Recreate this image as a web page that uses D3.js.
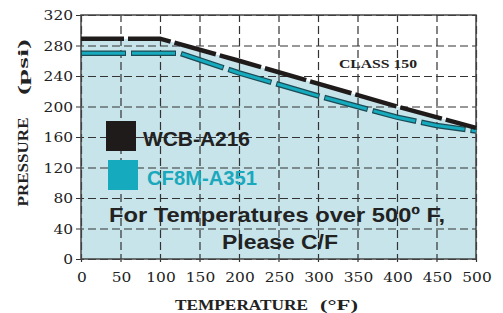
<!DOCTYPE html>
<html>
<head>
<meta charset="utf-8">
<script src="https://cdn.jsdelivr.net/npm/d3@7"></script>
<style>
  body { margin: 0; background: #fff; }
  svg { display: block; }
  .tick-label { font-family: 'DejaVu Serif', serif; font-size: 13px; fill: #222; }
  .axis-title { font-family: 'Liberation Serif', serif; font-weight: bold; font-size: 15px; fill: #222; }
  .legend-text { font-family: 'Liberation Sans', Arial, sans-serif; font-weight: bold; font-size: 20px; }
</style>
</head>
<body>
<svg width="503" height="313"></svg>
<script>
// chart values
var xTicks = [0, 50, 100, 150, 200, 250, 300, 350, 400, 450, 500];
var yTicks = [0, 40, 80, 120, 160, 200, 240, 280, 320];
var wcbTemp = [0, 100, 200, 300, 400, 500];
var wcbPressure = [289, 289, 260, 230, 200, 172];
var cf8mTemp = [0, 125, 200, 300, 400, 450, 500];
var cf8mPressure = [270, 270, 244, 214, 186, 175, 168];
var seriesNames = ['WCB-A216', 'CF8M-A351'];
var seriesColors = ['#1f1b1b', '#15aabd'];

var svg = d3.select('svg');

var plot = {l: 81, r: 476, t: 15, b: 259};

var xScale = d3.scaleLinear().domain([0, 500]).range([plot.l, plot.r]);
var yScale = d3.scaleLinear().domain([0, 320]).range([plot.b, plot.t]);

var wcb = wcbTemp.map(function(t, i) { return {t: t, p: wcbPressure[i]}; });
var cf8m = cf8mTemp.map(function(t, i) { return {t: t, p: cf8mPressure[i]}; });

// light blue area under the WCB curve
var area = d3.area()
    .x(function(d) { return xScale(d.t); })
    .y0(yScale(0))
    .y1(function(d) { return yScale(d.p); });

svg.append('path')
    .datum(wcb)
    .attr('d', area)
    .attr('fill', '#c6e4ea');

// dashed grid
var gridColor = '#333';
svg.append('g')
    .attr('transform', 'translate(0,' + plot.b + ')')
    .call(d3.axisBottom(xScale).tickValues(xTicks).tickSize(-(plot.b - plot.t) - 3).tickFormat(''))
    .call(function(g) {
        g.select('.domain').remove();
        g.selectAll('.tick line')
            .attr('transform', 'translate(0,3)')
            .attr('stroke', gridColor)
            .attr('stroke-width', 1.2)
            .attr('stroke-dasharray', '8,4');
    });

svg.append('g')
    .attr('transform', 'translate(' + (plot.l - 5) + ',0)')
    .call(d3.axisLeft(yScale).tickValues(yTicks).tickSize(-(plot.r - plot.l) - 5).tickFormat(''))
    .call(function(g) {
        g.select('.domain').remove();
        g.selectAll('.tick line')
            .attr('stroke', gridColor)
            .attr('stroke-width', 1.2)
            .attr('stroke-dasharray', '8,4');
    });

// frame
svg.append('rect')
    .attr('x', plot.l)
    .attr('y', plot.t)
    .attr('width', plot.r - plot.l)
    .attr('height', plot.b - plot.t)
    .attr('fill', 'none')
    .attr('stroke', '#444')
    .attr('stroke-width', 1.5);

// tick labels (wide typewriter-like digits)
svg.selectAll('.ylab')
    .data(yTicks)
    .enter()
    .append('text')
    .attr('class', 'tick-label')
    .attr('x', plot.l - 8)
    .attr('y', function(d) { return yScale(d) + 5; })
    .attr('text-anchor', 'end')
    .attr('textLength', function(d) { return String(d).length * 9.8; })
    .attr('lengthAdjust', 'spacingAndGlyphs')
    .text(function(d) { return d; });

svg.selectAll('.xlab')
    .data(xTicks)
    .enter()
    .append('text')
    .attr('class', 'tick-label')
    .attr('x', function(d) { return xScale(d) + 1; })
    .attr('y', 282)
    .attr('text-anchor', 'middle')
    .attr('textLength', function(d) { return String(d).length * 9.8; })
    .attr('lengthAdjust', 'spacingAndGlyphs')
    .text(function(d) { return d; });

// axis titles
function stretchedText(txt, x, y, len, rotate) {
    svg.append('text')
        .attr('class', 'axis-title')
        .attr('transform', 'translate(' + x + ',' + y + ')' + (rotate ? ' rotate(-90)' : ''))
        .attr('text-anchor', 'middle')
        .attr('textLength', len)
        .attr('lengthAdjust', 'spacingAndGlyphs')
        .text(txt);
}
stretchedText('PRESSURE', 28, 162, 89, true);
stretchedText('(psi)', 28, 67, 56, true);
stretchedText('TEMPERATURE', 241.5, 310, 133, false);
stretchedText('(\u00B0F)', 339, 310, 38, false);

svg.append('text')
    .attr('class', 'axis-title')
    .attr('x', 378)
    .attr('y', 68)
    .attr('text-anchor', 'middle')
    .attr('textLength', 78)
    .attr('lengthAdjust', 'spacingAndGlyphs')
    .style('font-size', '12.5px')
    .text('CLASS 150');

// series lines
var line = d3.line()
    .x(function(d) { return xScale(d.t); })
    .y(function(d) { return yScale(d.p); });

svg.append('path')
    .datum(cf8m)
    .attr('d', line)
    .attr('fill', 'none')
    .attr('stroke', '#1c4b55')
    .attr('stroke-width', 5.5)
    .attr('stroke-dasharray', '45,5');

svg.append('path')
    .datum(cf8m)
    .attr('d', line)
    .attr('fill', 'none')
    .attr('stroke', seriesColors[1])
    .attr('stroke-width', 3)
    .attr('stroke-dasharray', '43,7')
    .attr('stroke-dashoffset', -1);

svg.append('path')
    .datum(wcb)
    .attr('d', line)
    .attr('fill', 'none')
    .attr('stroke', seriesColors[0])
    .attr('stroke-width', 4.5)
    .attr('stroke-dasharray', '43,4');

// legend
var legendLengths = [107, 110];
var legend = svg.selectAll('.legend')
    .data(seriesNames)
    .enter()
    .append('g')
    .attr('class', 'legend')
    .attr('transform', function(d, i) { return 'translate(' + (106 + i * 2) + ',' + (121 + i * 39) + ')'; });

legend.append('rect')
    .attr('width', 30)
    .attr('height', 30)
    .attr('fill', function(d, i) { return seriesColors[i]; });

legend.append('text')
    .attr('class', 'legend-text')
    .attr('x', function(d, i) { return 37 + i * 2; })
    .attr('y', 24.5)
    .attr('textLength', function(d, i) { return legendLengths[i]; })
    .attr('lengthAdjust', 'spacingAndGlyphs')
    .attr('fill', function(d, i) { return i === 0 ? '#222' : '#1aa8bd'; })
    .text(function(d) { return d; });

// note
var note = svg.append('g')
    .attr('class', 'legend-text')
    .attr('fill', '#222');
note.append('text')
    .attr('x', 109).attr('y', 222)
    .attr('textLength', 336).attr('lengthAdjust', 'spacingAndGlyphs')
    .text('For Temperatures over 500\u00BA F,');
note.append('text')
    .attr('x', 222).attr('y', 249)
    .attr('textLength', 116).attr('lengthAdjust', 'spacingAndGlyphs')
    .text('Please C/F');
</script>
</body>
</html>
